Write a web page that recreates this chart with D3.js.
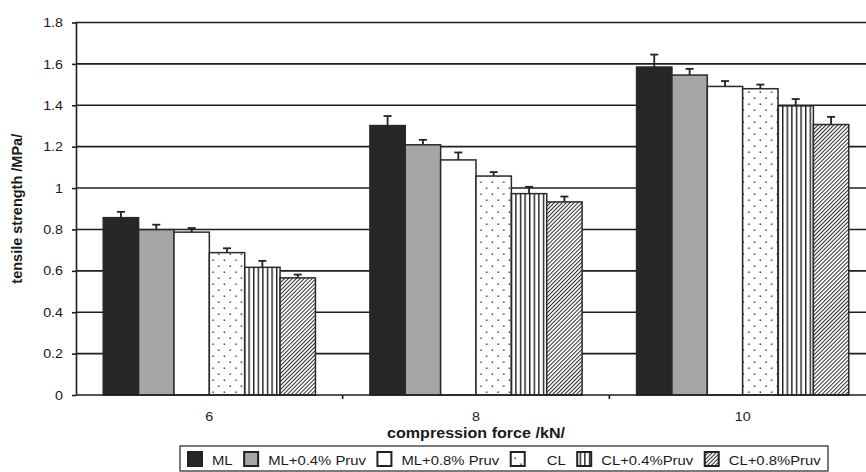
<!DOCTYPE html>
<html><head><meta charset="utf-8">
<script src="https://cdn.jsdelivr.net/npm/d3@7"></script>
<style>
html,body{margin:0;padding:0;background:#fff;}
svg{display:block;font-family:"Liberation Sans",Arial,Helvetica,sans-serif;}
</style></head>
<body>
<svg id="chart" width="866" height="472"></svg>
<script>
// ---- data ----
const categories = ["6", "8", "10"];
const series = ["ML", "ML+0.4% Pruv", "ML+0.8% Pruv", "CL", "CL+0.4%Pruv", "CL+0.8%Pruv"];
const valML      = [0.857, 1.302, 1.585];
const valML04    = [0.799, 1.209, 1.546];
const valML08    = [0.787, 1.136, 1.491];
const valCL      = [0.688, 1.058, 1.480];
const valCL04    = [0.617, 0.973, 1.397];
const valCL08    = [0.566, 0.933, 1.307];
const errML      = [0.028, 0.046, 0.060];
const errML04    = [0.024, 0.024, 0.030];
const errML08    = [0.020, 0.036, 0.026];
const errCL      = [0.021, 0.019, 0.020];
const errCL04    = [0.031, 0.033, 0.033];
const errCL08    = [0.016, 0.026, 0.037];
const yTicks = [0, 0.2, 0.4, 0.6, 0.8, 1, 1.2, 1.4, 1.6, 1.8];
const yTitle = "tensile strength /MPa/";
const xTitle = "compression force /kN/";

const values = [valML, valML04, valML08, valCL, valCL04, valCL08];
const errors = [errML, errML04, errML08, errCL, errCL04, errCL08];

// ---- layout ----
const svg = d3.select("#chart");
const plot = {left: 76, right: 876, top: 22.5, bottom: 395};
const SX = 1.1;   // horizontal text stretch

const y = d3.scaleLinear().domain([0, 1.8]).range([plot.bottom, plot.top]);
const x0 = d3.scaleBand().domain(categories).range([plot.left, plot.right]).padding(0);
const x1 = d3.scaleBand().domain(series).range([0, x0.bandwidth()]).paddingInner(0).paddingOuter(0.77);

// ---- patterns ----
const defs = svg.append("defs");
const pDots = defs.append("pattern").attr("id", "pDots").attr("patternUnits", "userSpaceOnUse")
  .attr("width", 11.4).attr("height", 12);
pDots.append("rect").attr("width", 11.4).attr("height", 12).attr("fill", "#fff");
pDots.append("rect").attr("x", 1.5).attr("y", 1.5).attr("width", 1.4).attr("height", 1.4).attr("fill", "#222");
pDots.append("rect").attr("x", 7.2).attr("y", 7.5).attr("width", 1.4).attr("height", 1.4).attr("fill", "#222");

const pV = defs.append("pattern").attr("id", "pV").attr("patternUnits", "userSpaceOnUse")
  .attr("width", 4.6).attr("height", 10);
pV.append("rect").attr("width", 4.6).attr("height", 10).attr("fill", "#fff");
pV.append("rect").attr("x", 0).attr("width", 1.4).attr("height", 10).attr("fill", "#1e1e1e");

const pH = defs.append("pattern").attr("id", "pH").attr("patternUnits", "userSpaceOnUse")
  .attr("width", 2.8).attr("height", 10).attr("patternTransform", "rotate(45)");
pH.append("rect").attr("width", 2.8).attr("height", 10).attr("fill", "#fff");
pH.append("rect").attr("x", 0).attr("width", 1).attr("height", 10).attr("fill", "#2a2a2a");

const fills = ["#262626", "#a6a6a6", "#ffffff", "url(#pDots)", "url(#pV)", "url(#pH)"];
const color = d3.scaleOrdinal().domain(series).range(fills);

// ---- gridlines ----
svg.append("g").selectAll("line").data(yTicks.filter(d => d > 0)).join("line")
  .attr("x1", plot.left).attr("x2", 866)
  .attr("y1", d => y(d)).attr("y2", d => y(d))
  .attr("stroke", "#1e1e1e").attr("stroke-width", 1.6);

// ---- bars ----
const rows = [];
categories.forEach((c, ci) => series.forEach((s, si) => rows.push({c, s, v: values[si][ci], e: errors[si][ci]})));

svg.append("g").selectAll("rect").data(rows).join("rect")
  .attr("x", d => x0(d.c) + x1(d.s))
  .attr("y", d => y(d.v))
  .attr("width", x1.bandwidth())
  .attr("height", d => y(0) - y(d.v))
  .attr("fill", d => color(d.s))
  .attr("stroke", "#2a2a2a").attr("stroke-width", 1.5);

// ---- error bars ----
const cx = d => x0(d.c) + x1(d.s) + x1.bandwidth() / 2;
const gErr = svg.append("g").attr("stroke", "#222").attr("stroke-width", 1.8);
gErr.selectAll("line.v").data(rows).join("line").attr("class", "v")
  .attr("x1", cx).attr("x2", cx)
  .attr("y1", d => y(d.v)).attr("y2", d => y(d.v + d.e));
gErr.selectAll("line.c").data(rows).join("line").attr("class", "c")
  .attr("x1", d => cx(d) - 4).attr("x2", d => cx(d) + 4)
  .attr("y1", d => y(d.v + d.e)).attr("y2", d => y(d.v + d.e));

// ---- y axis ----
const yAxis = svg.append("g").attr("transform", `translate(${plot.left},0)`)
  .call(d3.axisLeft(y).tickValues(yTicks).tickFormat(d3.format("~g")).tickSize(4).tickSizeOuter(0).tickPadding(9));
yAxis.select(".domain").attr("stroke", "#1e1e1e").attr("stroke-width", 1.6);
yAxis.selectAll(".tick line").attr("stroke", "#1e1e1e").attr("stroke-width", 1.6);
yAxis.selectAll(".tick text")
  .attr("font-size", 13).attr("fill", "#1a1a1a")
  .attr("font-family", "Liberation Sans, Arial, sans-serif")
  .each(function () {
    const t = d3.select(this);
    const xx = +t.attr("x");
    t.attr("x", 0).attr("transform", `translate(${xx},0) scale(${SX},1)`);
  });

// ---- x axis ----
svg.append("line").attr("x1", plot.left).attr("x2", 866)
  .attr("y1", y(0)).attr("y2", y(0)).attr("stroke", "#1e1e1e").attr("stroke-width", 1.6);
svg.append("g").selectAll("line").data(categories.slice(1)).join("line")
  .attr("x1", d => x0(d)).attr("x2", d => x0(d))
  .attr("y1", y(0)).attr("y2", y(0) + 4)
  .attr("stroke", "#1e1e1e").attr("stroke-width", 1.6);
svg.append("g").selectAll("text").data(categories).join("text")
  .attr("transform", d => `translate(${x0(d) + x0.bandwidth() / 2},421) scale(${SX},1)`)
  .attr("text-anchor", "middle").attr("font-size", 13).attr("fill", "#1a1a1a")
  .text(d => d);

svg.append("text")
  .attr("transform", `translate(${(plot.left + plot.right) / 2},437.5) scale(1.15,1)`)
  .attr("text-anchor", "middle").attr("font-size", 14).attr("font-weight", "bold").attr("fill", "#1a1a1a")
  .text(xTitle);

svg.append("text")
  .attr("transform", `translate(22,${(plot.top + plot.bottom) / 2}) rotate(-90)`)
  .attr("text-anchor", "middle").attr("font-size", 14.5).attr("font-weight", "bold").attr("fill", "#1a1a1a")
  .text(yTitle);

// ---- legend ----
const leg = svg.append("g");
leg.append("rect").attr("x", 180).attr("y", 446).attr("width", 648).attr("height", 25)
  .attr("fill", "#fff").attr("stroke", "#333").attr("stroke-width", 1.3);
let lx = 188;
series.forEach((s) => {
  leg.append("rect").attr("x", lx).attr("y", 452).attr("width", 14).attr("height", 14)
    .attr("fill", color(s)).attr("stroke", "#222").attr("stroke-width", 2);
  const tx = lx + 14 + 10 + (s === "CL" ? 12 : 0);
  const t = leg.append("text").attr("transform", `translate(${tx},464.5) scale(${SX},1)`)
    .attr("font-size", 13.5).attr("fill", "#1a1a1a").text(s);
  const w = t.node().getComputedTextLength() * SX;
  lx = tx + w + 11.5;
});
</script>
</body></html>
